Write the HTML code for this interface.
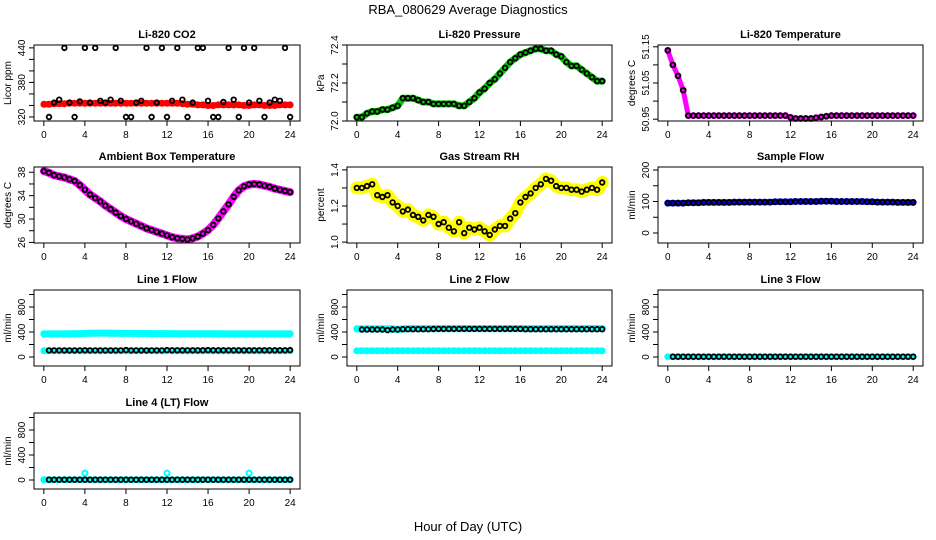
<!DOCTYPE html>
<html><head><meta charset="utf-8">
<style>
html,body{margin:0;padding:0;background:#fff;}
svg{display:block;font-family:"Liberation Sans",sans-serif;}
</style></head>
<body>
<svg id="chart" width="936" height="540" viewBox="0 0 936 540" xmlns="http://www.w3.org/2000/svg">
<rect width="936" height="540" fill="#fff"/>
<text x="468" y="14" text-anchor="middle" font-size="13">RBA_080629  Average Diagnostics</text>
<text x="468" y="531" text-anchor="middle" font-size="13">Hour of Day (UTC)</text>
</svg>
<script>
// Shared x (hours, every 0.5 h)
const hours = [0,0.5,1,1.5,2,2.5,3,3.5,4,4.5,5,5.5,6,6.5,7,7.5,8,8.5,9,9.5,10,10.5,11,11.5,12,12.5,13,13.5,14,14.5,15,15.5,16,16.5,17,17.5,18,18.5,19,19.5,20,20.5,21,21.5,22,22.5,23,23.5,24];
const xTicks = [0,4,8,12,16,20,24];

const co2Color = [342,342,343,343,343,344,344,344,344,344,344,344,344,344,344,344,344,344,344,344,344,344,344,344,344,344,344,343,342,342,341,341,340,340,341,341,341,341,341,340,340,341,341,340,340,340,341,341,341];
const co2Black = [343,320,345,350,440,345,320,347,440,345,440,348,345,350,440,348,320,320,345,348,440,320,345,440,320,348,440,350,320,345,440,440,348,320,320,346,440,350,320,440,345,440,348,320,345,350,348,440,320];
const pressure = [72.02,72.02,72.04,72.05,72.05,72.06,72.06,72.07,72.08,72.12,72.12,72.12,72.11,72.10,72.10,72.09,72.09,72.09,72.09,72.09,72.08,72.08,72.10,72.12,72.15,72.17,72.20,72.22,72.25,72.28,72.31,72.33,72.35,72.36,72.37,72.38,72.38,72.37,72.37,72.35,72.34,72.31,72.29,72.29,72.27,72.25,72.23,72.21,72.21];
const liTemp = [51.14,51.10,51.07,51.03,50.96,50.96,50.96,50.96,50.96,50.96,50.96,50.96,50.96,50.96,50.96,50.96,50.96,50.96,50.96,50.96,50.96,50.96,50.96,50.96,50.955,50.952,50.952,50.952,50.952,50.954,50.956,50.958,50.96,50.96,50.96,50.96,50.96,50.96,50.96,50.96,50.96,50.96,50.96,50.96,50.96,50.96,50.96,50.96,50.96];
const ambient = [38.2,37.9,37.5,37.3,37.1,36.8,36.5,35.8,35.0,34.2,33.6,33.0,32.3,31.7,31.1,30.5,30.0,29.6,29.2,28.8,28.4,28.1,27.8,27.5,27.2,26.9,26.7,26.6,26.5,26.7,27.0,27.5,28.1,29.0,30.1,31.3,32.5,33.8,34.9,35.6,35.9,36.0,35.9,35.7,35.5,35.2,35.0,34.8,34.6];
const gasRH = [1.30,1.30,1.31,1.32,1.26,1.25,1.26,1.22,1.20,1.17,1.18,1.15,1.14,1.12,1.15,1.14,1.10,1.11,1.08,1.06,1.11,1.05,1.08,1.07,1.08,1.06,1.04,1.07,1.09,1.09,1.13,1.16,1.22,1.25,1.27,1.30,1.32,1.35,1.34,1.31,1.30,1.30,1.29,1.29,1.28,1.29,1.30,1.29,1.33];
const sampleFlow = [95,95,95,95,96,96,96,97,97,97,97,97,97,98,98,98,98,98,98,98,98,99,99,99,99,100,100,100,100,100,101,101,101,100,100,100,100,100,100,99,99,98,98,98,98,97,97,97,97];
const line1Upper = [370,370,370,370,370,372,372,375,378,380,380,382,382,380,380,378,378,378,376,376,376,375,375,374,374,374,373,373,373,372,372,372,372,371,371,370,370,370,370,370,370,370,370,370,370,370,370,370,370];
const line1Lower = [100,100,100,100,100,100,100,100,100,100,100,100,100,100,100,100,100,100,100,100,100,100,100,100,100,100,100,100,100,100,100,100,100,100,100,100,100,100,100,100,100,100,100,100,100,100,100,100,100];
const line1Black = [105,105,105,105,105,105,105,105,108,105,105,105,105,105,105,105,110,105,105,105,105,105,105,105,110,108,108,108,108,108,108,108,110,108,108,108,108,108,108,108,108,108,108,108,108,108,108,108,110];
const line2Upper = [450,450,450,450,450,450,450,450,440,450,455,455,455,455,455,455,455,455,455,455,455,455,455,455,455,455,455,455,455,455,455,455,455,455,455,455,455,455,455,455,455,455,455,455,455,455,455,455,455];
const line2Lower = [100,100,100,100,100,100,100,100,100,100,100,100,100,100,100,100,100,100,100,100,100,100,100,100,100,100,100,100,100,100,100,100,100,100,100,100,100,100,100,100,100,100,100,100,100,100,100,100,100];
const line2Black = [440,440,440,440,440,440,430,440,440,445,445,445,445,445,445,448,450,450,450,450,450,450,450,450,450,450,450,450,450,450,450,450,450,445,445,445,445,445,445,445,445,445,445,445,445,445,445,445,445];
const line3Color = [5,5,5,5,5,5,5,5,5,5,5,5,5,5,5,5,5,5,5,5,5,5,5,5,5,5,5,5,5,5,5,5,5,5,5,5,5,5,5,5,5,5,5,5,5,5,5,5,5];
const line3Black = [5,5,5,5,5,5,5,5,5,5,5,5,5,5,5,5,5,5,5,5,5,5,5,5,5,5,5,5,5,5,5,5,5,5,5,5,5,5,5,5,5,5,5,5,5,5,5,5,5];
const line4Color = [5,5,5,5,5,5,5,5,110,5,5,5,5,5,5,5,5,5,5,5,5,5,5,5,110,5,5,5,5,5,5,5,5,5,5,5,5,5,5,5,110,5,5,5,5,5,5,5,5];
const line4Black = [5,5,5,5,5,5,5,5,5,5,5,5,5,5,5,5,5,5,5,5,5,5,5,5,5,5,5,5,5,5,5,5,5,5,5,5,5,5,5,5,5,5,5,5,5,5,5,5,5];

const NS = "http://www.w3.org/2000/svg";
const svg = document.getElementById('chart');
const cols = [[34,300],[347,612],[658,923]];
const rows = [[45,121],[167,243],[290,366],[413,489]];
const XMIN = -0.96, XMAX = 24.96;

function mk(tag, attrs, parent){
  const e = document.createElementNS(NS, tag);
  for (const k in attrs) e.setAttribute(k, attrs[k]);
  (parent||svg).appendChild(e);
  return e;
}

function panel(name, title, col, row, ylim, yTicks, yLabels, yTitle, series){
  const [x0,x1] = cols[col], [y0,y1] = rows[row];
  const g = mk('g', {});
  
  
  const sx = v => x0 + (v - XMIN) / (XMAX - XMIN) * (x1 - x0);
  const sy = v => y1 - (v - ylim[0]) / (ylim[1] - ylim[0]) * (y1 - y0);
  const t = mk('text', {x:(x0+x1)/2, y:y0-7, 'text-anchor':'middle', 'font-size':11, 'font-weight':'bold'}, g);
  t.textContent = title;
  
  
  series.forEach((s, si) => {
    const sg = mk('g', {}, g);
    
    
    if (s.band) {
      const pts = hours.map((h,i) => sx(h).toFixed(1) + ',' + sy(s.vals[i]).toFixed(1)).join(' ');
      const pl = mk('polyline', {points:pts, fill:'none', stroke:s.color, 'stroke-width':s.band, 'stroke-linejoin':'round', 'stroke-linecap':'round'}, sg);
      
      
    }
    hours.forEach((h,i) => {
      if (s.skipFirst && i === 0) return;
      const c = mk('circle', {cx:sx(h).toFixed(1), cy:sy(s.vals[i]).toFixed(1), r:s.r||2.3, fill:'none', stroke:s.color, 'stroke-width':s.sw||1.8}, sg);
      
      
    });
  });
  const box = mk('rect', {x:x0, y:y0, width:x1-x0, height:y1-y0, fill:'none', stroke:'#000', 'stroke-width':1}, g);
  
  
  xTicks.forEach(v => {
    const x = sx(v);
    mk('line', {x1:x, x2:x, y1:y1, y2:y1+5, stroke:'#000'}, g);
    const tl = mk('text', {x:x, y:y1+17, 'text-anchor':'middle', 'font-size':10}, g);
    tl.textContent = v;
    
    
  });
  mk('line', {x1:sx(0), x2:sx(24), y1:y1, y2:y1, stroke:'#000'}, g);
  yTicks.forEach(v => {
    const y = sy(v);
    mk('line', {x1:x0-5, x2:x0, y1:y, y2:y, stroke:'#000'}, g);
  });
  yLabels.forEach(v => {
    const y = sy(v);
    const tl = mk('text', {x:0, y:0, 'text-anchor':'middle', 'font-size':10, transform:'translate('+(x0-9)+','+y+') rotate(-90)'}, g);
    tl.textContent = v;
    
    
  });
  const yt = mk('text', {x:0, y:0, 'text-anchor':'middle', 'font-size':10, transform:'translate('+(x0-23)+','+((y0+y1)/2)+') rotate(-90)'}, g);
  yt.textContent = yTitle;
  
  
}

panel('co2','Li-820 CO2',0,0,[313,445],[320,340,360,380,400,420,440],['320','380','440'],'Licor ppm',
  [{vals:co2Color,color:'#ff0000',band:6,r:2.5,sw:2},{vals:co2Black,color:'#000',skipFirst:true}]);
panel('pressure','Li-820 Pressure',1,0,[72.0,72.4],[72.0,72.1,72.2,72.3,72.4],['72.0','72.2','72.4'],'kPa',
  [{vals:pressure,color:'#00cc00',band:7,r:2.5,sw:2},{vals:pressure,color:'#000'}]);
panel('li820-temp','Li-820 Temperature',2,0,[50.945,51.155],[50.95,51.0,51.05,51.1,51.15],['50.95','51.05','51.15'],'degrees C',
  [{vals:liTemp,color:'#ff00ff',band:5,r:2.5,sw:2},{vals:liTemp,color:'#000'}]);
panel('ambient','Ambient Box Temperature',0,1,[25.9,38.9],[26,28,30,32,34,36,38],['26','30','34','38'],'degrees C',
  [{vals:ambient,color:'#ff00ff',band:8,r:2.5,sw:2},{vals:ambient,color:'#000'}]);
panel('gas-rh','Gas Stream RH',1,1,[0.995,1.416],[1.0,1.1,1.2,1.3,1.4],['1.0','1.2','1.4'],'percent',
  [{vals:gasRH,color:'#ffff00',band:13,r:3,sw:2},{vals:gasRH,color:'#000'}]);
panel('sample-flow','Sample Flow',2,1,[-31.7,209.5],[0,50,100,150,200],['0','100','200'],'ml/min',
  [{vals:sampleFlow,color:'#0000ff',band:6,r:2.5,sw:2},{vals:sampleFlow,color:'#000'}]);
const flowLim = [-144,1072], flowTicks=[0,200,400,600,800,1000], flowLabels=['0','400','800'];
panel('line1-flow','Line 1 Flow',0,2,flowLim,flowTicks,flowLabels,'ml/min',
  [{vals:line1Upper,color:'#00ffff',band:7,r:2.5,sw:2},{vals:line1Lower,color:'#00ffff',band:6,r:2.5,sw:2},{vals:line1Black,color:'#000',skipFirst:true}]);
panel('line2-flow','Line 2 Flow',1,2,flowLim,flowTicks,flowLabels,'ml/min',
  [{vals:line2Upper,color:'#00ffff',band:7,r:2.5,sw:2},{vals:line2Lower,color:'#00ffff',band:6,r:2.5,sw:2},{vals:line2Black,color:'#000',skipFirst:true}]);
panel('line3-flow','Line 3 Flow',2,2,flowLim,flowTicks,flowLabels,'ml/min',
  [{vals:line3Color,color:'#00ffff',band:6,r:2.5,sw:2},{vals:line3Black,color:'#000',skipFirst:true}]);
panel('line4-flow','Line 4 (LT) Flow',0,3,flowLim,flowTicks,flowLabels,'ml/min',
  [{vals:line4Black,color:'#00ffff',band:6,r:2.5,sw:2},{vals:line4Color,color:'#00ffff',r:2.5,sw:2},{vals:line4Black,color:'#000',skipFirst:true}]);
</script>
</body></html>
